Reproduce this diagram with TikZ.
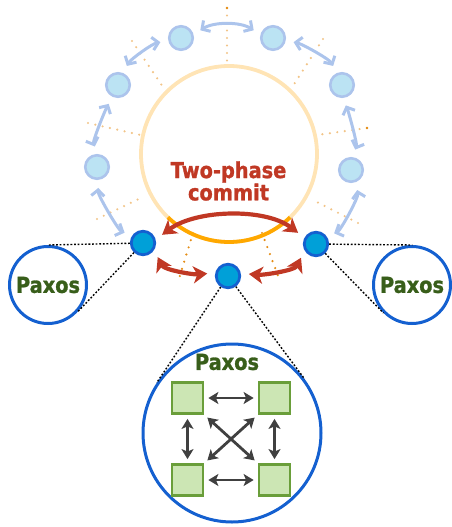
\documentclass[tikz,border=0pt]{standalone}
\usepackage{fontspec}
\newfontfamily\lblfont[FakeStretch=0.88, BoldFeatures={FakeBold=1.2}]{DejaVu Sans}
\newcommand\paxfont{\lblfont\bfseries\fontsize{22}{21}\selectfont}
\usetikzlibrary{arrows.meta,calc}
\definecolor{peach}{RGB}{255,228,181}
\definecolor{orng}{RGB}{255,168,0}
\definecolor{spokec}{RGB}{242,196,136}
\definecolor{spokedk}{RGB}{228,140,20}
\definecolor{lbfill}{RGB}{187,227,243}
\definecolor{lbdraw}{RGB}{172,196,236}
\definecolor{dbfill}{RGB}{0,160,216}
\definecolor{dbdraw}{RGB}{20,96,208}
\definecolor{redc}{RGB}{192,56,36}
\definecolor{paxgreen}{RGB}{56,94,26}
\definecolor{sqfill}{RGB}{204,230,180}
\definecolor{sqdraw}{RGB}{106,158,58}
\definecolor{arrgray}{RGB}{64,64,64}
\begin{document}
\begin{tikzpicture}[x=1pt,y=-1pt,
  spoke/.style={spokec, line width=2.4, line cap=round, dash pattern=on 0pt off 7.5pt},
  spokedark/.style={spoke, draw=spokedk},
  lnode/.style={circle, draw=lbdraw, fill=lbfill, line width=2.6, minimum size=23.5, inner sep=0},
  dnode/.style={circle, draw=dbdraw, fill=dbfill, line width=2.8, minimum size=23.5, inner sep=0},
  paxcirc/.style={circle, draw=dbdraw, line width=3, fill=white, inner sep=0, text=paxgreen, font=\paxfont},
  sq/.style={draw=sqdraw, fill=sqfill, line width=2.8, minimum size=31, inner sep=0},
  lbarrow/.style={lbdraw, line width=3, {Straight Barb[length=6pt,width=13pt]}-{Straight Barb[length=6pt,width=13pt]}, shorten <=8, shorten >=8},
  rarrow/.style={redc, line width=4.2, {Stealth[length=14pt,width=17pt,inset=4pt]}-{Stealth[length=14pt,width=17pt,inset=4pt]}, shorten <=8, shorten >=8},
  garrow/.style={arrgray, line width=2.8, {Stealth[length=10pt,width=12pt,inset=2.5pt]}-{Stealth[length=10pt,width=12pt,inset=2.5pt]}, shorten <=4, shorten >=4},
  tanline/.style={black, line width=1.4, dash pattern=on 1.8pt off 1.8pt}
]
\useasboundingbox (0,0) rectangle (451,527);

% radial dotted spokes
\draw[spoke] (227,8) -- (227,66);
\draw[spoke] (132,41) -- (165,90);
\draw[spoke] (323,39) -- (291,89);
\draw[spoke] (88,123) -- (145,136);
\draw[spoke] (367,128) -- (317,135);
\draw[spoke] (97,219) -- (143,197);
\draw[spoke] (358,223) -- (313,200);
\draw[spokedark] (193,233) -- (178,282);
\draw[spokedark] (262,233) -- (280,281);
\fill[spokedk] (227,8) circle (1.4);
\fill[spokedk] (367,128) circle (1.4);

% big ring
\draw[peach, line width=3.8] (229,154) circle[radius=88];
\draw[orng, line width=3.8] ([shift={(229,154)}]46:88) arc[start angle=46, end angle=134, radius=88];

\node[font=\paxfont, text=redc, align=center] (tpc) at (228.5,181) {Two-phase\\commit};

% light nodes
\node[lnode] (L1) at (181,38) {};
\node[lnode] (L2) at (273,38) {};
\node[lnode] (L3) at (118,85) {};
\node[lnode] (L4) at (342,85) {};
\node[lnode] (L5) at (97,167) {};
\node[lnode] (L6) at (351,170) {};

% dark nodes
\node[dnode] (D1) at (143,243) {};
\node[dnode] (D2) at (316,244) {};
\node[dnode] (D3) at (228,276) {};

% light arrows
\draw[lbarrow] (L1.15) .. controls +(20,-13) and +(-20,-13) .. (L2.165);
\draw[lbarrow] (L3.68) .. controls +(8,-14) and +(-16,3) .. (L1.192);
\draw[lbarrow] (L2.-12) .. controls +(16,3) and +(-8,-14) .. (L4.112);
\draw[lbarrow] (L3.246) .. controls +(-8,14) and +(-5,-13) .. (L5.87);
\draw[lbarrow] (L4.-87) .. controls +(6,14) and +(5,-13) .. (L6.84);
\draw[lbarrow] (L5.-82) .. controls +(-1,15) and +(-14,-6) .. (D1.147);
\draw[lbarrow] (L6.-69) .. controls +(3,15) and +(14,-6) .. (D2.35);

% red arrows
\draw[rarrow] (D1.15) .. controls +(40,-30) and +(-40,-30) .. (D2.151);
\draw[rarrow] (D1.-32) .. controls +(10,20) and +(-22,2) .. (D3.166);
\draw[rarrow] (D3.12) .. controls +(22,2) and +(-10,20) .. (D2.210);

% paxos circles
\node[paxcirc, minimum size=77] (P1) at (48,285) {Paxos};
\node[paxcirc, minimum size=77] (P2) at (412,285) {Paxos};
\node[paxcirc, minimum size=178] (P3) at (232,433) {};
\node[font=\paxfont, text=paxgreen] (plabel) at (227,362) {Paxos};

% zoom lines
\draw[tanline] (D1) -- (tangent cs:node=P1, point={(D1)}, solution=1);
\draw[tanline] (D1) -- (tangent cs:node=P1, point={(D1)}, solution=2);
\draw[tanline] (D2) -- (tangent cs:node=P2, point={(D2)}, solution=1);
\draw[tanline] (D2) -- (tangent cs:node=P2, point={(D2)}, solution=2);
\draw[tanline] (D3) -- (tangent cs:node=P3, point={(D3)}, solution=1);
\draw[tanline] (D3) -- (tangent cs:node=P3, point={(D3)}, solution=2);

% paxos squares
\node[sq] (S1) at (187.5,398) {};
\node[sq] (S2) at (274.5,398) {};
\node[sq] (S3) at (187.5,480) {};
\node[sq] (S4) at (274.5,480) {};
\draw[garrow] (S1) -- (S2);
\draw[garrow] (S3) -- (S4);
\draw[garrow] (S1) -- (S3);
\draw[garrow] (S2) -- (S4);
\draw[garrow] (S1.south east) -- (S4.north west);
\draw[garrow] (S2.south west) -- (S3.north east);
\end{tikzpicture}
\end{document}
